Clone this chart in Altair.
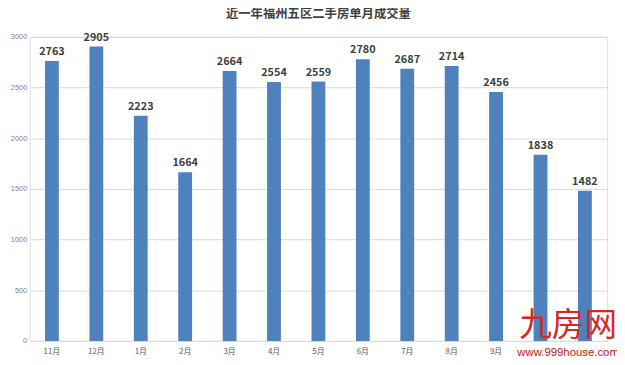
import altair as alt
import pandas as pd

months = ["11月", "12月", "1月", "2月", "3月", "4月", "5月", "6月", "7月", "8月", "9月", "10月", "11月"]
values = [2763, 2905, 2223, 1664, 2664, 2554, 2559, 2780, 2687, 2714, 2456, 1838, 1482]
title = "近一年福州五区二手房单月成交量"

df = pd.DataFrame({"idx": list(range(len(months))), "month": months, "value": values})
label_expr = "[" + ",".join("'" + m + "'" for m in months) + "][datum.value]"

font = "Noto Sans CJK SC"

x = alt.X("idx:O", title=None, scale=alt.Scale(paddingInner=0, paddingOuter=0),
          axis=alt.Axis(labelExpr=label_expr, labelAngle=0, ticks=False, domain=False,
                        labelFontSize=8, labelColor="#595959", labelPadding=7, labelFont=font))
y = alt.Y("value:Q", title=None, scale=alt.Scale(domain=[0, 3000]),
          axis=alt.Axis(values=[0, 500, 1000, 1500, 2000, 2500, 3000], format="d", ticks=False,
                        domain=False, labelFontSize=7.5, labelColor="#7F7F7F", labelPadding=3,
                        gridColor="#D9D9D9", labelFont="Liberation Sans"))

base = alt.Chart(df).encode(x=x, y=y)
bars = base.mark_bar(color="#4F81BD", size=14)
labels = base.mark_text(dy=-9, fontSize=11, fontWeight="bold", color="#404040", font=font).encode(
    text="value:Q")

wm_bg = alt.Chart(pd.DataFrame({"a": [1]})).mark_rect(color="white", opacity=0.85).encode(
    x=alt.value(494), x2=alt.value(592), y=alt.value(313), y2=alt.value(327))
wm1 = alt.Chart(pd.DataFrame({"t": ["九房网"]})).mark_text(
    fontSize=33, color="#D9261C", font=font, align="left", baseline="middle"
).encode(text="t:N", x=alt.value(496), y=alt.value(293))
wm2 = alt.Chart(pd.DataFrame({"t": ["www.999house.com"]})).mark_text(
    fontSize=11.5, color="#C0201A", font="Liberation Sans", align="left", baseline="middle"
).encode(text="t:N", x=alt.value(494), y=alt.value(320))

chart = alt.layer(bars, labels, wm_bg, wm1, wm2).properties(
    width=585, height=308,
    title=alt.TitleParams(title, fontSize=12.5, fontWeight="bold", color="#404040", font=font, offset=11),
    autosize=alt.AutoSizeParams(type="none"),
    padding={"left": 22, "top": 27, "right": 10, "bottom": 14},
).configure_view(stroke=None).configure(background="white")

chart.save("out.html", embed_options={"renderer": "svg", "actions": False})
